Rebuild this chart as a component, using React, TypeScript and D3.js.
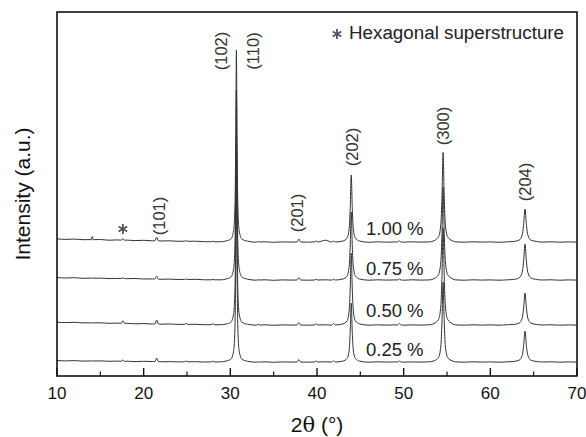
import React from "react";
import * as d3 from "d3";

// 2-theta grid (deg) shared by all four patterns
const angles = [
  10, 11, 12, 13, 13.97, 14.07, 14.17, 15, 16, 17, 17.4, 17.6, 17.8, 18, 19, 20, 21, 21.3, 21.5, 21.7,
  22, 23, 24, 24.7, 24.9, 25.1, 26, 27, 27.8, 28, 28.2, 29, 29.5,
  30.06, 30.38, 30.54, 30.62, 30.7, 30.78, 30.86, 31.02, 31.34,
  32, 33, 33.2, 33.4, 34, 35, 36, 37, 37.7, 37.9, 38.1, 39, 39.7, 39.9, 40.1, 41, 41.7, 41.9, 42.1,
  42.99, 43.47, 43.71, 43.83, 43.95, 44.07, 44.19, 44.43, 44.91,
  46, 47, 48, 49, 49.3, 49.5, 49.7, 50, 51, 52, 53,
  53.51, 54.03, 54.29, 54.42, 54.55, 54.68, 54.81, 55.07, 55.59,
  56, 57, 58, 59, 60, 61, 62,
  62.64, 63.32, 63.66, 63.83, 64.0, 64.17, 64.34, 64.68, 65.36,
  66, 67, 68, 69, 70
];

// intensities (a.u., stacked)
const int100 = [
  1372, 1366, 1369, 1363, 1364, 1394, 1363, 1365, 1358, 1361, 1358, 1374, 1357, 1359, 1354, 1357, 1352, 1353, 1388, 1352,
  1350, 1352, 1347, 1348, 1353, 1347, 1348, 1343, 1343, 1348, 1342, 1343, 1351,
  1369, 1453, 1724, 2300, 3260, 2300, 1724, 1453, 1369,
  1348, 1338, 1345, 1340, 1342, 1337, 1341, 1339, 1340, 1370, 1340, 1338, 1341, 1350, 1340, 1358, 1339, 1350, 1340,
  1350, 1380, 1474, 1675, 2010, 1675, 1474, 1380, 1350,
  1337, 1342, 1338, 1341, 1340, 1352, 1340, 1338, 1342, 1339, 1341,
  1353, 1393, 1519, 1788, 2235, 1788, 1519, 1393, 1353,
  1341, 1338, 1342, 1339, 1341, 1337, 1342,
  1345, 1359, 1406, 1505, 1670, 1505, 1406, 1359, 1345,
  1339, 1342, 1338, 1341, 1339
];
const int075 = [
  985, 980, 983, 977, 979, 979, 978, 979, 974, 976, 975, 982, 974, 973, 975, 970, 971, 970, 1000, 969,
  967, 969, 965, 966, 970, 965, 967, 962, 962, 965, 962, 962, 970,
  989, 1072, 1340, 1910, 2860, 1910, 1340, 1072, 989,
  968, 958, 962, 960, 962, 957, 961, 959, 960, 985, 960, 958, 960, 968, 960, 962, 959, 968, 960,
  970, 1000, 1096, 1300, 1640, 1300, 1096, 1000, 970,
  958, 962, 959, 961, 960, 970, 960, 958, 962, 959, 961,
  974, 1015, 1146, 1425, 1890, 1425, 1146, 1015, 974,
  961, 958, 962, 959, 961, 958, 962,
  965, 981, 1032, 1140, 1320, 1140, 1032, 981, 965,
  960, 962, 958, 961, 959
];
const int050 = [
  539, 534, 537, 531, 532, 531, 531, 532, 527, 529, 527, 552, 526, 527, 522, 524, 520, 521, 560, 520,
  518, 520, 516, 516, 526, 516, 517, 513, 513, 523, 512, 513, 520,
  538, 621, 886, 1450, 2390, 1450, 886, 621, 538,
  517, 508, 518, 509, 512, 507, 511, 509, 510, 535, 510, 508, 510, 522, 510, 512, 509, 524, 510,
  521, 552, 654, 870, 1230, 870, 654, 552, 521,
  508, 512, 509, 511, 510, 525, 510, 508, 511, 509, 512,
  525, 567, 704, 995, 1480, 995, 704, 567, 525,
  511, 508, 512, 509, 511, 508, 513,
  515, 529, 574, 670, 830, 670, 574, 529, 515,
  510, 512, 508, 511, 509
];
const int025 = [
  155, 151, 154, 149, 151, 150, 150, 151, 147, 149, 147, 162, 146, 148, 144, 147, 145, 145, 180, 144,
  142, 144, 141, 142, 150, 142, 143, 140, 141, 149, 140, 142, 150,
  168, 249, 510, 1065, 1990, 1065, 510, 249, 168,
  147, 138, 141, 139, 142, 137, 141, 139, 140, 165, 140, 138, 140, 150, 140, 142, 139, 152, 140,
  149, 175, 258, 435, 730, 435, 258, 175, 149,
  138, 142, 139, 141, 140, 150, 140, 138, 141, 139, 142,
  152, 187, 300, 540, 940, 540, 300, 187, 152,
  141, 138, 142, 139, 141, 138, 142,
  145, 158, 202, 295, 450, 295, 202, 158, 145,
  140, 142, 138, 141, 139
];

const series = [int100, int075, int050, int025];
const concLabels = ["1.00 %", "0.75 %", "0.50 %", "0.25 %"];
const concLevels = [1410, 1010, 595, 200];

const hklLabels = ["(102)", "(110)", "(101)", "(201)", "(202)", "(300)", "(204)"];
const hklAngles = [28.92, 32.62, 21.77, 37.69, 44.04, 54.54, 64.0];
const hklLevels = [3250, 3250, 1600, 1630, 2290, 2500, 1940];

const majorTicks = [10, 20, 30, 40, 50, 60, 70];
const minorTicks = [15, 25, 35, 45, 55, 65];

const W = 586;
const H = 437;
const left = 57;
const right = 577;
const top = 12;
const bottom = 376;
const font = "Liberation Sans, Arial, sans-serif";

export default function App() {
  const x = d3.scaleLinear().domain([10, 70]).range([left, right]);
  const y = d3.scaleLinear().domain([0, 3640]).range([bottom, top]);

  const line = d3
    .line<number>()
    .x((d, i) => x(angles[i]))
    .y((d) => y(d))
    .curve(d3.curveMonotoneX);

  const star = d3.symbol(d3.symbolAsterisk, 70)();

  return (
    <svg width={W} height={H} style={{ position: "absolute", left: 0, top: 0 }} fontFamily={font}>
      <rect width={W} height={H} fill="#fff" />
      {series.map((s, i) => (
        <path key={i} d={line(s) || ""} fill="none" stroke="#333" strokeWidth={1} />
      ))}

      {/* frame */}
      <rect x={left} y={top} width={right - left} height={bottom - top} fill="none" stroke="#111" strokeWidth={1.6} />

      {/* bottom ticks, inward */}
      {majorTicks.map((t) => (
        <g key={"M" + t}>
          <line x1={x(t)} x2={x(t)} y1={bottom} y2={bottom - 8} stroke="#111" strokeWidth={1.4} />
          <text x={x(t)} y={399} textAnchor="middle" fontSize={17} fill="#111">
            {t}
          </text>
        </g>
      ))}
      {minorTicks.map((t) => (
        <line key={"m" + t} x1={x(t)} x2={x(t)} y1={bottom} y2={bottom - 4.5} stroke="#111" strokeWidth={1.2} />
      ))}

      {/* axis titles */}
      <text x={317} y={432} textAnchor="middle" fontSize={21} fill="#111">
        2<tspan fontFamily="DejaVu Serif, serif">θ</tspan> (°)
      </text>
      <text transform={`translate(22,194) rotate(-90)`} textAnchor="middle" dominantBaseline="central" fontSize={21} fill="#111">
        Intensity (a.u.)
      </text>

      {/* reflection labels */}
      {hklLabels.map((h, i) => (
        <text
          key={h}
          transform={`translate(${x(hklAngles[i])},${y(hklLevels[i])}) rotate(-90)`}
          textAnchor="middle"
          dominantBaseline="central"
          fontSize={16.5}
          fill="#333"
        >
          {h}
        </text>
      ))}

      {/* concentration labels */}
      {concLabels.map((c, i) => (
        <text key={c} x={x(45.65)} y={y(concLevels[i])} fontSize={18.5} fill="#222">
          {c}
        </text>
      ))}

      {/* superstructure marker */}
      <path d={star} transform={`translate(${x(17.6)},${y(1470)})`} fill="none" stroke="#555" strokeWidth={1.8} />
      <path d={star} transform={`translate(337,34)`} fill="none" stroke="#555" strokeWidth={1.8} />
      <text x={349} y={39} fontSize={18.8} fill="#222">
        Hexagonal superstructure
      </text>
    </svg>
  );
}
